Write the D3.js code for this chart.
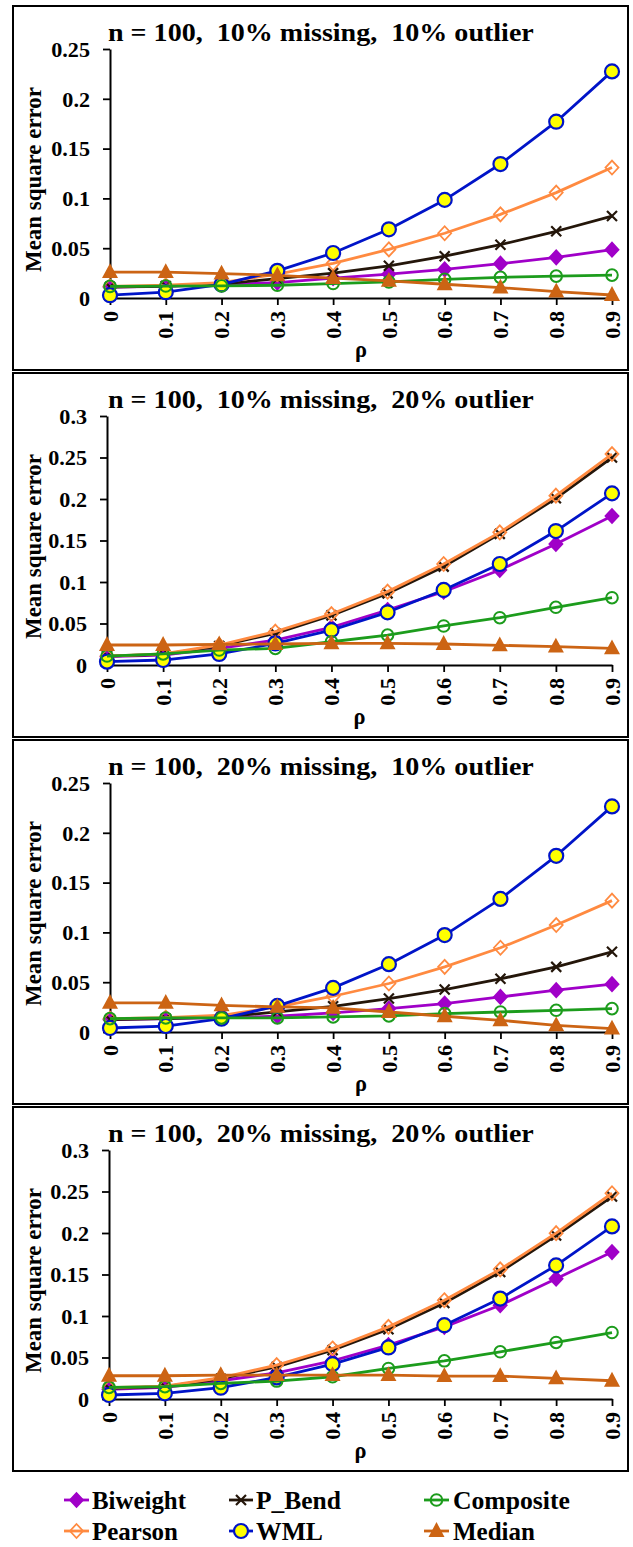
<!DOCTYPE html>
<html>
<head>
<meta charset="utf-8">
<script src="https://cdn.jsdelivr.net/npm/d3@7"></script>
<style>
  html, body { margin: 0; padding: 0; background: #fff; }
  svg { display: block; }
  text { font-family: "Liberation Serif", "Times New Roman", serif; font-weight: bold; fill: #000; white-space: pre; }
</style>
</head>
<body>
<div id="chart"></div>
<script>
// ρ categories shared by every panel
const rhoLabels = ["0", "0.1", "0.2", "0.3", "0.4", "0.5", "0.6", "0.7", "0.8", "0.9"];

// Panel titles and y-axis maxima
const panelTitles = [
  "n = 100,  10% missing,  10% outlier",
  "n = 100,  10% missing,  20% outlier",
  "n = 100,  20% missing,  10% outlier",
  "n = 100,  20% missing,  20% outlier"
];
const yMax = [0.25, 0.3, 0.25, 0.3];
const yStep = 0.05;

// Mean square error per estimator, one row per panel
const biweight = [
  [0.011, 0.0117, 0.0135, 0.0155, 0.0200, 0.0240, 0.0288, 0.0345, 0.0408, 0.0485],
  [0.010, 0.012, 0.020, 0.030, 0.0454, 0.0663, 0.0884, 0.1145, 0.1458, 0.1795],
  [0.0124, 0.0134, 0.0144, 0.0158, 0.0191, 0.0235, 0.0285, 0.0352, 0.042, 0.048],
  [0.0116, 0.014, 0.022, 0.0316, 0.046, 0.0649, 0.0869, 0.1129, 0.145, 0.177]
];
const pearson = [
  [0.0117, 0.0128, 0.0155, 0.0240, 0.0348, 0.0488, 0.065, 0.084, 0.1058, 0.131],
  [0.0108, 0.0133, 0.0241, 0.0402, 0.0614, 0.0884, 0.1217, 0.1598, 0.204, 0.2542],
  [0.0134, 0.0144, 0.0168, 0.0252, 0.0359, 0.0487, 0.0654, 0.0846, 0.1074, 0.1319],
  [0.0136, 0.0156, 0.0256, 0.0409, 0.0609, 0.0869, 0.119, 0.1562, 0.1998, 0.2479]
];
const pBend = [
  [0.011, 0.012, 0.014, 0.0195, 0.025, 0.0323, 0.042, 0.0535, 0.067, 0.0823],
  [0.0108, 0.0129, 0.0229, 0.0382, 0.0598, 0.0863, 0.1185, 0.158, 0.2008, 0.250],
  [0.0124, 0.0134, 0.0151, 0.0201, 0.0258, 0.0336, 0.0426, 0.0534, 0.0654, 0.0805],
  [0.0128, 0.0148, 0.0244, 0.0388, 0.0589, 0.0841, 0.1157, 0.153, 0.197, 0.2439]
];
const wml = [
  [0.0028, 0.0058, 0.0136, 0.0273, 0.0452, 0.069, 0.0985, 0.1345, 0.177, 0.2275],
  [0.004, 0.006, 0.0133, 0.026, 0.042, 0.0635, 0.0904, 0.1217, 0.1614, 0.2068],
  [0.004, 0.006, 0.0134, 0.0262, 0.0443, 0.0681, 0.0973, 0.1336, 0.1769, 0.2265],
  [0.0048, 0.0068, 0.0136, 0.026, 0.042, 0.0621, 0.0889, 0.121, 0.161, 0.2079]
];
const composite = [
  [0.0117, 0.012, 0.0122, 0.0128, 0.0145, 0.0162, 0.0187, 0.0207, 0.022, 0.023],
  [0.0108, 0.0133, 0.018, 0.020, 0.028, 0.036, 0.047, 0.057, 0.0695, 0.0811],
  [0.0134, 0.0141, 0.0141, 0.0141, 0.0151, 0.0161, 0.0185, 0.0201, 0.0218, 0.0235],
  [0.014, 0.0148, 0.0188, 0.0216, 0.0268, 0.0368, 0.046, 0.0569, 0.0681, 0.0801]
];
const median = [
  [0.026, 0.026, 0.0245, 0.0228, 0.020, 0.0171, 0.0138, 0.0104, 0.0065, 0.003],
  [0.0241, 0.0241, 0.0249, 0.0253, 0.026, 0.026, 0.0253, 0.0237, 0.0221, 0.020],
  [0.0292, 0.0292, 0.0268, 0.0252, 0.0242, 0.0201, 0.0158, 0.0117, 0.0067, 0.0034],
  [0.028, 0.028, 0.0288, 0.0288, 0.0288, 0.0288, 0.0276, 0.0276, 0.0248, 0.022]
];

// Series styling, in drawing order (later ones sit on top)
const seriesDefs = [
  { name: "Biweight",  data: biweight,  color: "#A000C8", marker: "diamond",  fill: "#A000C8" },
  { name: "P_Bend",    data: pBend,     color: "#24160A", marker: "cross",    fill: "none" },
  { name: "Pearson",   data: pearson,   color: "#FF8A40", marker: "diamond",  fill: "none" },
  { name: "WML",       data: wml,       color: "#0014C8", marker: "circle",   fill: "#FFFF00" },
  { name: "Composite", data: composite, color: "#1C9C1C", marker: "ring",     fill: "none" },
  { name: "Median",    data: median,    color: "#CC6414", marker: "triangle", fill: "#CC6414" }
];

// Legend layout: rows and columns follow this order
const legendOrder = [["Biweight", "P_Bend", "Composite"], ["Pearson", "WML", "Median"]];

const W = 633, H = 1547;
const svg = d3.select("#chart").append("svg").attr("width", W).attr("height", H);

// Marker path builder
function markerPath(kind) {
  switch (kind) {
    case "diamond": return "M0,-7L6.5,0L0,7L-6.5,0Z";
    case "triangle": return "M0,-7L6.5,5L-6.5,5Z";
    case "cross": return "M-5,-5L5,5M-5,5L5,-5";
    default: return null;
  }
}
function drawMarker(g, s, cx, cy) {
  if (s.marker === "circle") {
    g.append("circle").attr("cx", cx).attr("cy", cy).attr("r", 7)
      .attr("fill", s.fill).attr("stroke", s.color).attr("stroke-width", 2.2);
  } else if (s.marker === "ring") {
    g.append("circle").attr("cx", cx).attr("cy", cy).attr("r", 5.8)
      .attr("fill", s.fill).attr("stroke", s.color).attr("stroke-width", 2);
  } else {
    g.append("path").attr("d", markerPath(s.marker))
      .attr("transform", `translate(${cx},${cy})`)
      .attr("fill", s.fill).attr("stroke", s.color)
      .attr("stroke-width", s.marker === "cross" ? 2.2 : 1.8)
      .attr("stroke-linejoin", "miter");
  }
}

// Text widened or narrowed to a set length along its own direction
function fitText(parent, str, x, y, size, len, anchor, rotate) {
  const t = parent.append("text").attr("text-anchor", anchor || "start")
    .style("font-size", size + "px").text(str);
  const k = len / t.node().getComputedTextLength();
  t.attr("transform", `translate(${x},${y})` + (rotate ? ` rotate(${rotate})` : "") + ` scale(${k},1)`);
  return t;
}

const fmt = v => String(+v.toFixed(2));
const axisXStart = [110, 107, 110, 109];
const axisXEnd = 612;
const panelTop0 = 6, panelPitch = 367, panelH = 364;

panelTitles.forEach((title, i) => {
  const T = panelTop0 + i * panelPitch;
  const g = svg.append("g");

  // panel frame
  g.append("rect").attr("x", 13).attr("y", T).attr("width", 615).attr("height", panelH)
    .attr("fill", "none").attr("stroke", "#000").attr("stroke-width", 2);

  const plotTop = T + 43, plotBot = T + 292;
  const x = d3.scalePoint().domain(rhoLabels).range([axisXStart[i], axisXEnd]);
  const y = d3.scaleLinear().domain([0, yMax[i]]).range([plotBot, plotTop]);

  // title
  fitText(g, title, 108, T + 35, 25, 426, "start");

  // y axis
  const yTicks = d3.range(0, yMax[i] + 1e-9, yStep);
  const ya = g.append("g").attr("transform", `translate(${axisXStart[i]},0)`)
    .call(d3.axisLeft(y).tickValues(yTicks).tickSize(7).tickSizeOuter(0).tickFormat(fmt));
  ya.select(".domain").attr("stroke-width", 2);
  ya.selectAll(".tick line").attr("stroke-width", 1.8);
  ya.selectAll(".tick text").each(function () {
    d3.select(this).attr("x", null).attr("dy", "0.36em")
      .attr("transform", "translate(-20,0) scale(1.08,1)")
      .attr("text-anchor", "end")
      .style("font-size", "20.5px").attr("font-family", null).attr("fill", "#000");
  });

  // x axis
  const xa = g.append("g").attr("transform", `translate(0,${plotBot})`)
    .call(d3.axisBottom(x).tickSize(7).tickSizeOuter(0));
  xa.select(".domain").attr("stroke-width", 2);
  xa.selectAll(".tick line").attr("stroke-width", 1.8);
  xa.selectAll(".tick text").each(function () {
    d3.select(this).attr("y", 0).attr("dy", "0.35em")
      .attr("transform", "translate(0,13) rotate(-90) scale(1.08,1)")
      .attr("text-anchor", "end")
      .style("font-size", "20.5px").attr("font-family", null).attr("fill", "#000");
  });
  g.selectAll(".domain, .tick line").attr("stroke", "#000");

  // axis titles
  fitText(g, "Mean square error", 41, (plotTop + plotBot) / 2 + 6, 22.5, 185, "middle", -90);
  fitText(g, "ρ", (axisXStart[i] + axisXEnd) / 2, T + 351, 23, 12, "middle");

  // series lines and markers
  const line = d3.line().x((d, j) => x(rhoLabels[j])).y(d => y(d));
  seriesDefs.forEach(s => {
    const vals = s.data[i];
    const sg = g.append("g");
    sg.append("path").attr("d", line(vals)).attr("fill", "none")
      .attr("stroke", s.color).attr("stroke-width", 2.8).attr("stroke-linejoin", "round");
    vals.forEach((v, j) => drawMarker(sg, s, x(rhoLabels[j]), y(v)));
  });
});

// legend
const legendCols = [{ x0: 64, x1: 89, tx: 92 }, { x0: 229, x1: 253, tx: 256 }, { x0: 424, x1: 449, tx: 453 }];
const legendRows = [{ cy: 1500, by: 1509 }, { cy: 1531, by: 1540 }];
const legendWidths = { Biweight: 94, P_Bend: 85, Composite: 117, Pearson: 86, WML: 67, Median: 82 };
legendOrder.forEach((row, r) => {
  row.forEach((name, c) => {
    const s = seriesDefs.find(d => d.name === name);
    const col = legendCols[c], rw = legendRows[r];
    const lg = svg.append("g");
    lg.append("line").attr("x1", col.x0).attr("x2", col.x1).attr("y1", rw.cy).attr("y2", rw.cy)
      .attr("stroke", s.color).attr("stroke-width", 2.8);
    drawMarker(lg, s, (col.x0 + col.x1) / 2, rw.cy);
    fitText(lg, name, col.tx, rw.by, 26, legendWidths[name], "start");
  });
});
</script>
</body>
</html>
